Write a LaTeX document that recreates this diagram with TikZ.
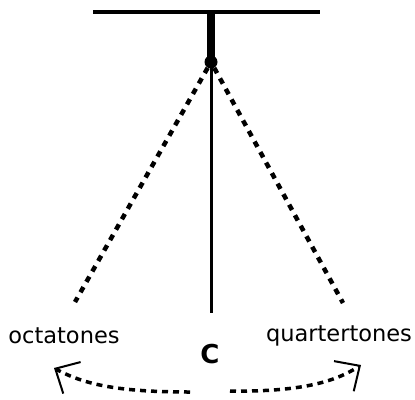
\documentclass[tikz,border=0pt]{standalone}
\usepackage{fontspec}
\setmainfont{DejaVu Sans}
\usetikzlibrary{positioning,arrows.meta}

\begin{document}
\begin{tikzpicture}[x=1pt,y=-1pt,
 pivot/.style={circle,fill=black,inner sep=0pt,minimum size=13pt},
 rope/.style={line width=4.5pt,dash pattern=on 6pt off 6pt},
 swing/.style={line width=3.5pt,dash pattern=on 6pt off 5pt,
  -{Straight Barb[length=19pt,width=36pt,line width=2pt]}},
 word/.style={font=\fontsize{22.5}{26}\selectfont,inner sep=0pt}]
\useasboundingbox (0,0) rectangle (415,399);
\coordinate (TL) at (93,12); \coordinate (TR) at (320,12);
\coordinate (T) at (211,12);
\node[pivot] (P) at (211,62) {};
\coordinate (B) at (211,313);
\coordinate (EL) at (75,302); \coordinate (ER) at (343,303);
\draw[line width=4pt] (TL)--(TR);
\draw[line width=8pt] (T)--(P.center);
\draw[line width=3pt] (P.center)--(B);
\foreach \e in {EL,ER} {\draw[rope] (P)--(\e);}
\node[word] (oct) at (64,336) {octatones};
\node[word] (qrt) at (339,336) {quartertones};
\node[word,font=\fontsize{26}{30}\selectfont\bfseries] (c) at (210,354) {C};
\coordinate (SL) at (190,392); \coordinate (SR) at (230,391);
\coordinate (AL) at (54,368); \coordinate (AR) at (361,365);
\draw[swing] (SL) .. controls (120,392) and (85,385) .. (AL);
\draw[swing] (SR) .. controls (300,392) and (335,382) .. (AR);
\end{tikzpicture}
\end{document}
